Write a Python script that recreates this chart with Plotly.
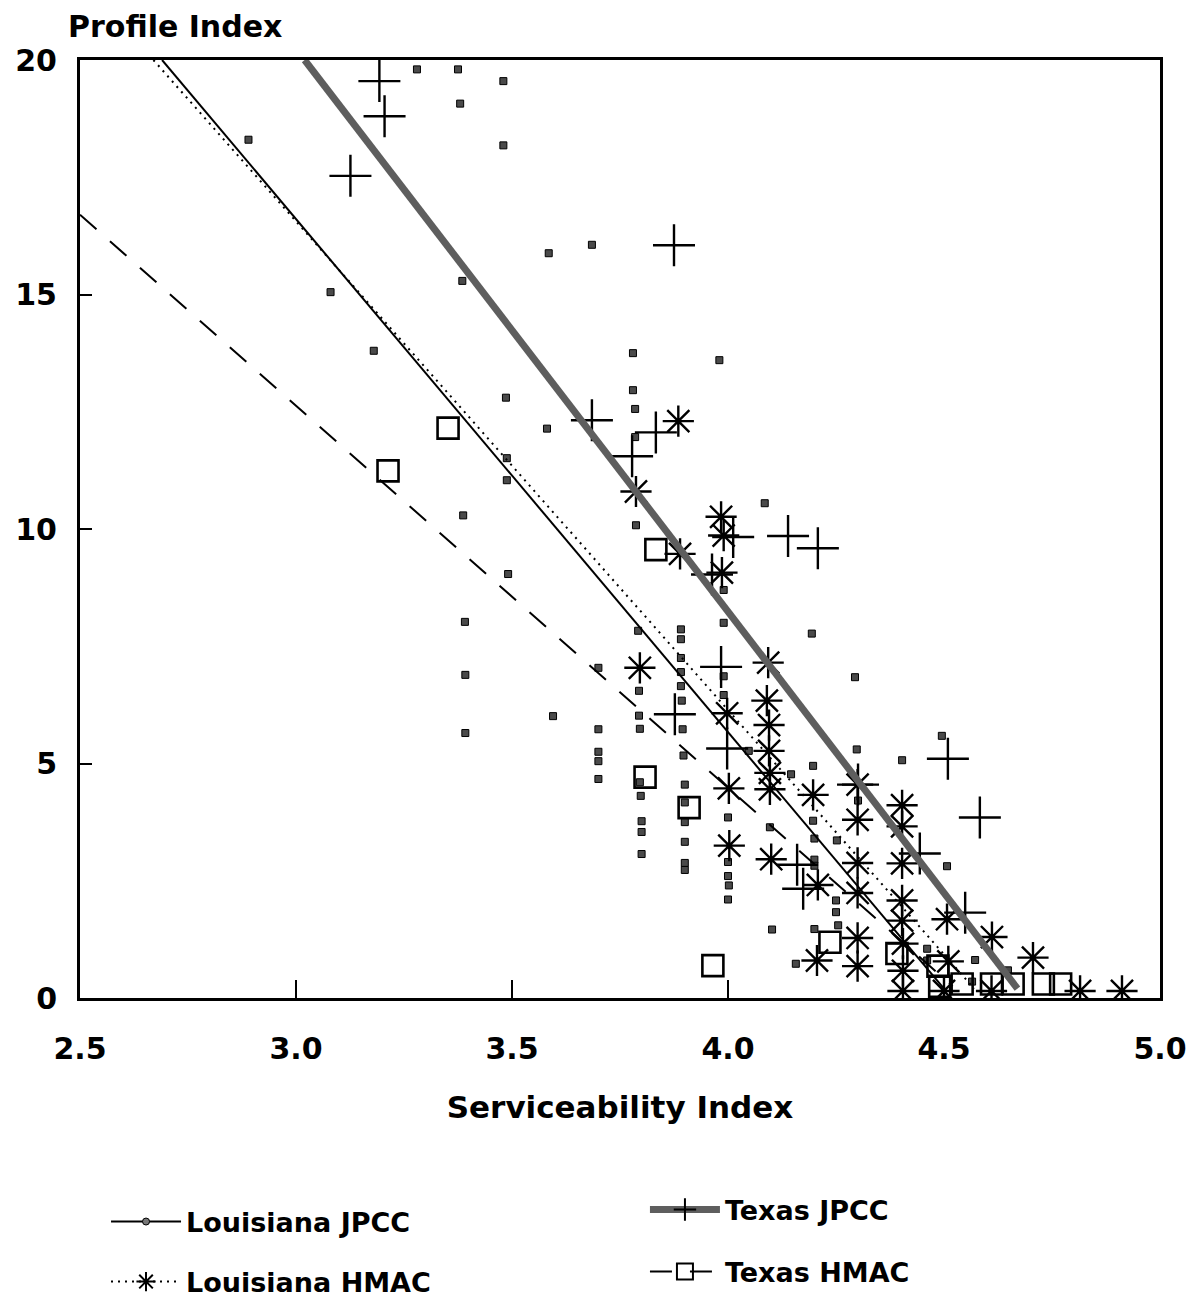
import plotly.graph_objects as go

# ---------------- data ----------------
# Louisiana JPCC observations (small filled squares)
la_jpcc_si = [2.89, 3.08, 3.18, 3.28, 3.375, 3.48, 3.38, 3.48, 3.585, 3.385,
              3.685, 3.78, 3.98, 3.78, 3.785, 3.785, 4.085, 3.787, 3.486, 3.581,
              3.488, 3.488, 3.387, 3.491, 3.391, 3.392, 3.392, 3.595, 3.70, 3.70,
              3.70, 3.70, 3.70, 3.792, 3.794, 3.794, 3.796, 3.796, 3.798, 3.80,
              3.80, 3.80, 3.891, 3.891, 3.891, 3.891, 3.891, 3.893, 3.895, 3.897,
              3.90, 3.90, 3.90, 3.90, 3.90, 3.90, 3.99, 3.99, 3.99, 3.99,
              4.048, 4.146, 4.097, 4.0, 4.0, 4.0, 4.002, 4.0, 4.294, 4.298,
              4.197, 4.197, 4.20, 4.252, 4.20, 4.20, 4.25, 4.25, 4.255, 4.102,
              4.157, 4.20, 4.403, 4.495, 4.507, 4.301, 4.194, 4.572, 4.461, 4.461,
              4.565, 4.648]
la_jpcc_pi = [18.3, 15.05, 13.8, 19.8, 19.8, 19.55, 19.07, 18.18, 15.88, 15.29,
              16.06, 13.75, 13.6, 12.96, 12.56, 11.96, 10.55, 10.08, 12.8, 12.14,
              11.51, 11.04, 10.29, 9.04, 8.02, 6.89, 5.65, 6.01, 7.04, 5.73,
              5.25, 5.05, 4.67, 7.83, 6.55, 6.02, 5.74, 4.6, 4.31, 3.77,
              3.54, 3.07, 7.86, 7.65, 7.25, 6.95, 6.65, 6.34, 5.73, 5.17,
              4.55, 4.17, 3.75, 3.33, 2.88, 2.73, 6.86, 6.46, 8.7, 8.0,
              5.27, 4.77, 3.64, 3.85, 2.9, 2.6, 2.4, 2.1, 6.84, 5.3,
              4.95, 3.78, 3.4, 3.36, 2.95, 2.82, 2.08, 1.83, 1.55, 1.46,
              0.73, 1.47, 5.07, 5.59, 2.81, 4.21, 7.77, 0.81, 1.05, 0.8,
              0.35, 0.59]

# Louisiana HMAC observations (asterisks)
la_hmac_si = [3.885, 3.787, 3.984, 3.99, 3.889, 3.986, 3.796, 4.093, 3.998, 4.09,
              4.095, 4.095, 4.097, 4.097, 4.002, 4.003, 4.197, 4.10, 4.208, 4.30,
              4.30, 4.30, 4.30, 4.30, 4.30, 4.403, 4.403, 4.403, 4.403, 4.403,
              4.405, 4.405, 4.405, 4.507, 4.611, 4.706, 4.815, 4.912, 4.51, 4.61,
              4.50, 4.206]
la_hmac_pi = [12.3, 10.8, 10.26, 9.86, 9.47, 9.07, 7.04, 7.15, 6.07, 6.34,
              5.82, 5.27, 4.8, 4.45, 4.47, 3.25, 4.33, 2.96, 2.41, 4.55,
              3.8, 2.88, 2.24, 1.28, 0.68, 4.11, 3.66, 2.87, 2.08, 1.65,
              1.16, 0.58, 0.15, 1.68, 1.3, 0.86, 0.15, 0.15, 0.78, 0.15,
              0.15, 0.8]

# Texas JPCC observations (plus signs)
tx_jpcc_si = [3.193, 3.205, 3.126, 3.875, 3.685, 3.833, 3.778, 4.012, 4.139, 4.208,
              3.963, 3.984, 3.877, 3.998, 4.16, 4.174, 4.301, 4.444, 4.549, 4.509,
              4.583]
tx_jpcc_pi = [19.55, 18.8, 17.53, 16.05, 12.32, 12.06, 11.55, 9.83, 9.85, 9.59,
              9.03, 7.06, 6.05, 5.32, 2.84, 2.33, 4.55, 3.08, 1.82, 5.1,
              3.85]

# Texas HMAC observations (open squares)
tx_hmac_si = [3.352, 3.213, 3.833, 3.808, 3.91, 3.965, 4.236, 4.391, 4.486, 4.49,
              4.542, 4.61, 4.66, 4.73, 4.77]
tx_hmac_pi = [12.15, 11.24, 9.56, 4.71, 4.06, 0.69, 1.19, 0.95, 0.68, 0.25,
              0.3, 0.3, 0.3, 0.3, 0.3]

# fitted regression lines (end points)
la_jpcc_fit_si = [2.69, 4.50]
la_jpcc_fit_pi = [20.0, 0.2]
la_hmac_fit_si = [2.67, 4.57]
la_hmac_fit_pi = [20.0, 0.2]
tx_jpcc_fit_si = [3.02, 4.67]
tx_jpcc_fit_pi = [20.0, 0.2]
tx_hmac_fit_si = [2.5, 4.52]
tx_hmac_fit_pi = [16.7, 0.25]

x_ticks = [2.5, 3.0, 3.5, 4.0, 4.5, 5.0]
x_tick_text = ["2.5", "3.0", "3.5", "4.0", "4.5", "5.0"]
y_ticks = [0, 5, 10, 15, 20]
y_tick_text = ["0", "5", "10", "15", "20"]

FONT = "DejaVu Sans"
BOLD = dict(family=FONT, color="black", weight="bold")

fig = go.Figure()


def fit_trace(x, y, name, legend, line, marker):
    # line + legend glyph; markers hidden on the plot (shown only in legend)
    return go.Scatter(x=x, y=y, mode="lines+markers", name=name, legend=legend,
                      line=line, marker=marker, selectedpoints=[],
                      unselected=dict(marker=dict(opacity=0)),
                      hoverinfo="skip", cliponaxis=True)


# --- scatter points ---
fig.add_trace(go.Scatter(x=la_jpcc_si, y=la_jpcc_pi, mode="markers", name="Louisiana JPCC",
                         legend="legend", showlegend=False,
                         marker=dict(symbol="square", size=7, color="#4a4a4a",
                                     line=dict(color="black", width=1))))
fig.add_trace(go.Scatter(x=tx_hmac_si, y=tx_hmac_pi, mode="markers", name="Texas HMAC",
                         legend="legend4", showlegend=False,
                         marker=dict(symbol="square-open", size=21, color="black",
                                     line=dict(color="black", width=2.6))))
fig.add_trace(go.Scatter(x=la_hmac_si, y=la_hmac_pi, mode="markers", name="Louisiana HMAC",
                         legend="legend2", showlegend=False,
                         marker=dict(symbol="asterisk-open", size=26, color="black",
                                     line=dict(color="#111111", width=2.4))))
fig.add_trace(go.Scatter(x=tx_jpcc_si, y=tx_jpcc_pi, mode="markers", name="Texas JPCC",
                         legend="legend3", showlegend=False,
                         marker=dict(symbol="cross-thin-open", size=30, color="black",
                                     line=dict(color="black", width=2.4))))

# --- fitted lines ---
fig.add_trace(fit_trace(tx_hmac_fit_si, tx_hmac_fit_pi, "Texas HMAC", "legend4",
                        dict(color="black", width=2, dash="22px,18px"),
                        dict(symbol="square-open", size=16, color="black",
                             line=dict(color="black", width=2))))
fig.add_trace(fit_trace(la_hmac_fit_si, la_hmac_fit_pi, "Louisiana HMAC", "legend2",
                        dict(color="black", width=2, dash="2px,5px"),
                        dict(symbol="asterisk-open", size=16, color="black",
                             line=dict(color="black", width=2))))
fig.add_trace(fit_trace(la_jpcc_fit_si, la_jpcc_fit_pi, "Louisiana JPCC", "legend",
                        dict(color="black", width=2),
                        dict(symbol="circle", size=7, color="#777777",
                             line=dict(color="black", width=1))))
fig.add_trace(fit_trace(tx_jpcc_fit_si, tx_jpcc_fit_pi, "Texas JPCC", "legend3",
                        dict(color="#5e5e5e", width=7),
                        dict(symbol="cross-thin-open", size=16, color="black",
                             line=dict(color="black", width=2))))

legend_common = dict(xanchor="left", yanchor="middle", bgcolor="rgba(0,0,0,0)",
                     borderwidth=0, itemwidth=70,
                     font=dict(family=FONT, size=27, color="black", weight="bold"))

# the page adds an 8px body margin, so the figure margins are offset by 8px
fig.update_layout(
    width=1201, height=1302,
    paper_bgcolor="white", plot_bgcolor="white",
    margin=dict(l=72, r=49, t=52, b=312, autoexpand=False),
    font=dict(family=FONT, color="black"),
    legend=dict(x=0.0241, y=-0.2388, **legend_common),
    legend2=dict(x=0.0241, y=-0.3028, **legend_common),
    legend3=dict(x=0.5231, y=-0.226, **legend_common),
    legend4=dict(x=0.5231, y=-0.292, **legend_common),
    xaxis=dict(range=[2.5, 5.0], tickvals=x_ticks, ticktext=x_tick_text,
               showgrid=False, zeroline=False, showline=True, mirror=True,
               linecolor="black", linewidth=3, ticks="inside", ticklen=18,
               tickwidth=2, tickcolor="black", ticklabelstandoff=22,
               automargin=False,
               tickfont=dict(size=30, **BOLD),
               title=dict(text="Serviceability Index", standoff=32,
                          font=dict(size=31, **BOLD))),
    yaxis=dict(range=[0, 20], tickvals=y_ticks, ticktext=y_tick_text,
               showgrid=False, zeroline=False, showline=True, mirror=True,
               linecolor="black", linewidth=3, ticks="inside", ticklen=12,
               tickwidth=2, tickcolor="black", ticklabelstandoff=14,
               automargin=False,
               tickfont=dict(size=30, **BOLD)),
    annotations=[dict(text="Profile Index", xref="paper", yref="paper",
                      x=-0.013, y=1.0352, xanchor="left", yanchor="middle",
                      showarrow=False, font=dict(size=30, **BOLD))],
)

fig.write_html("out.html")
